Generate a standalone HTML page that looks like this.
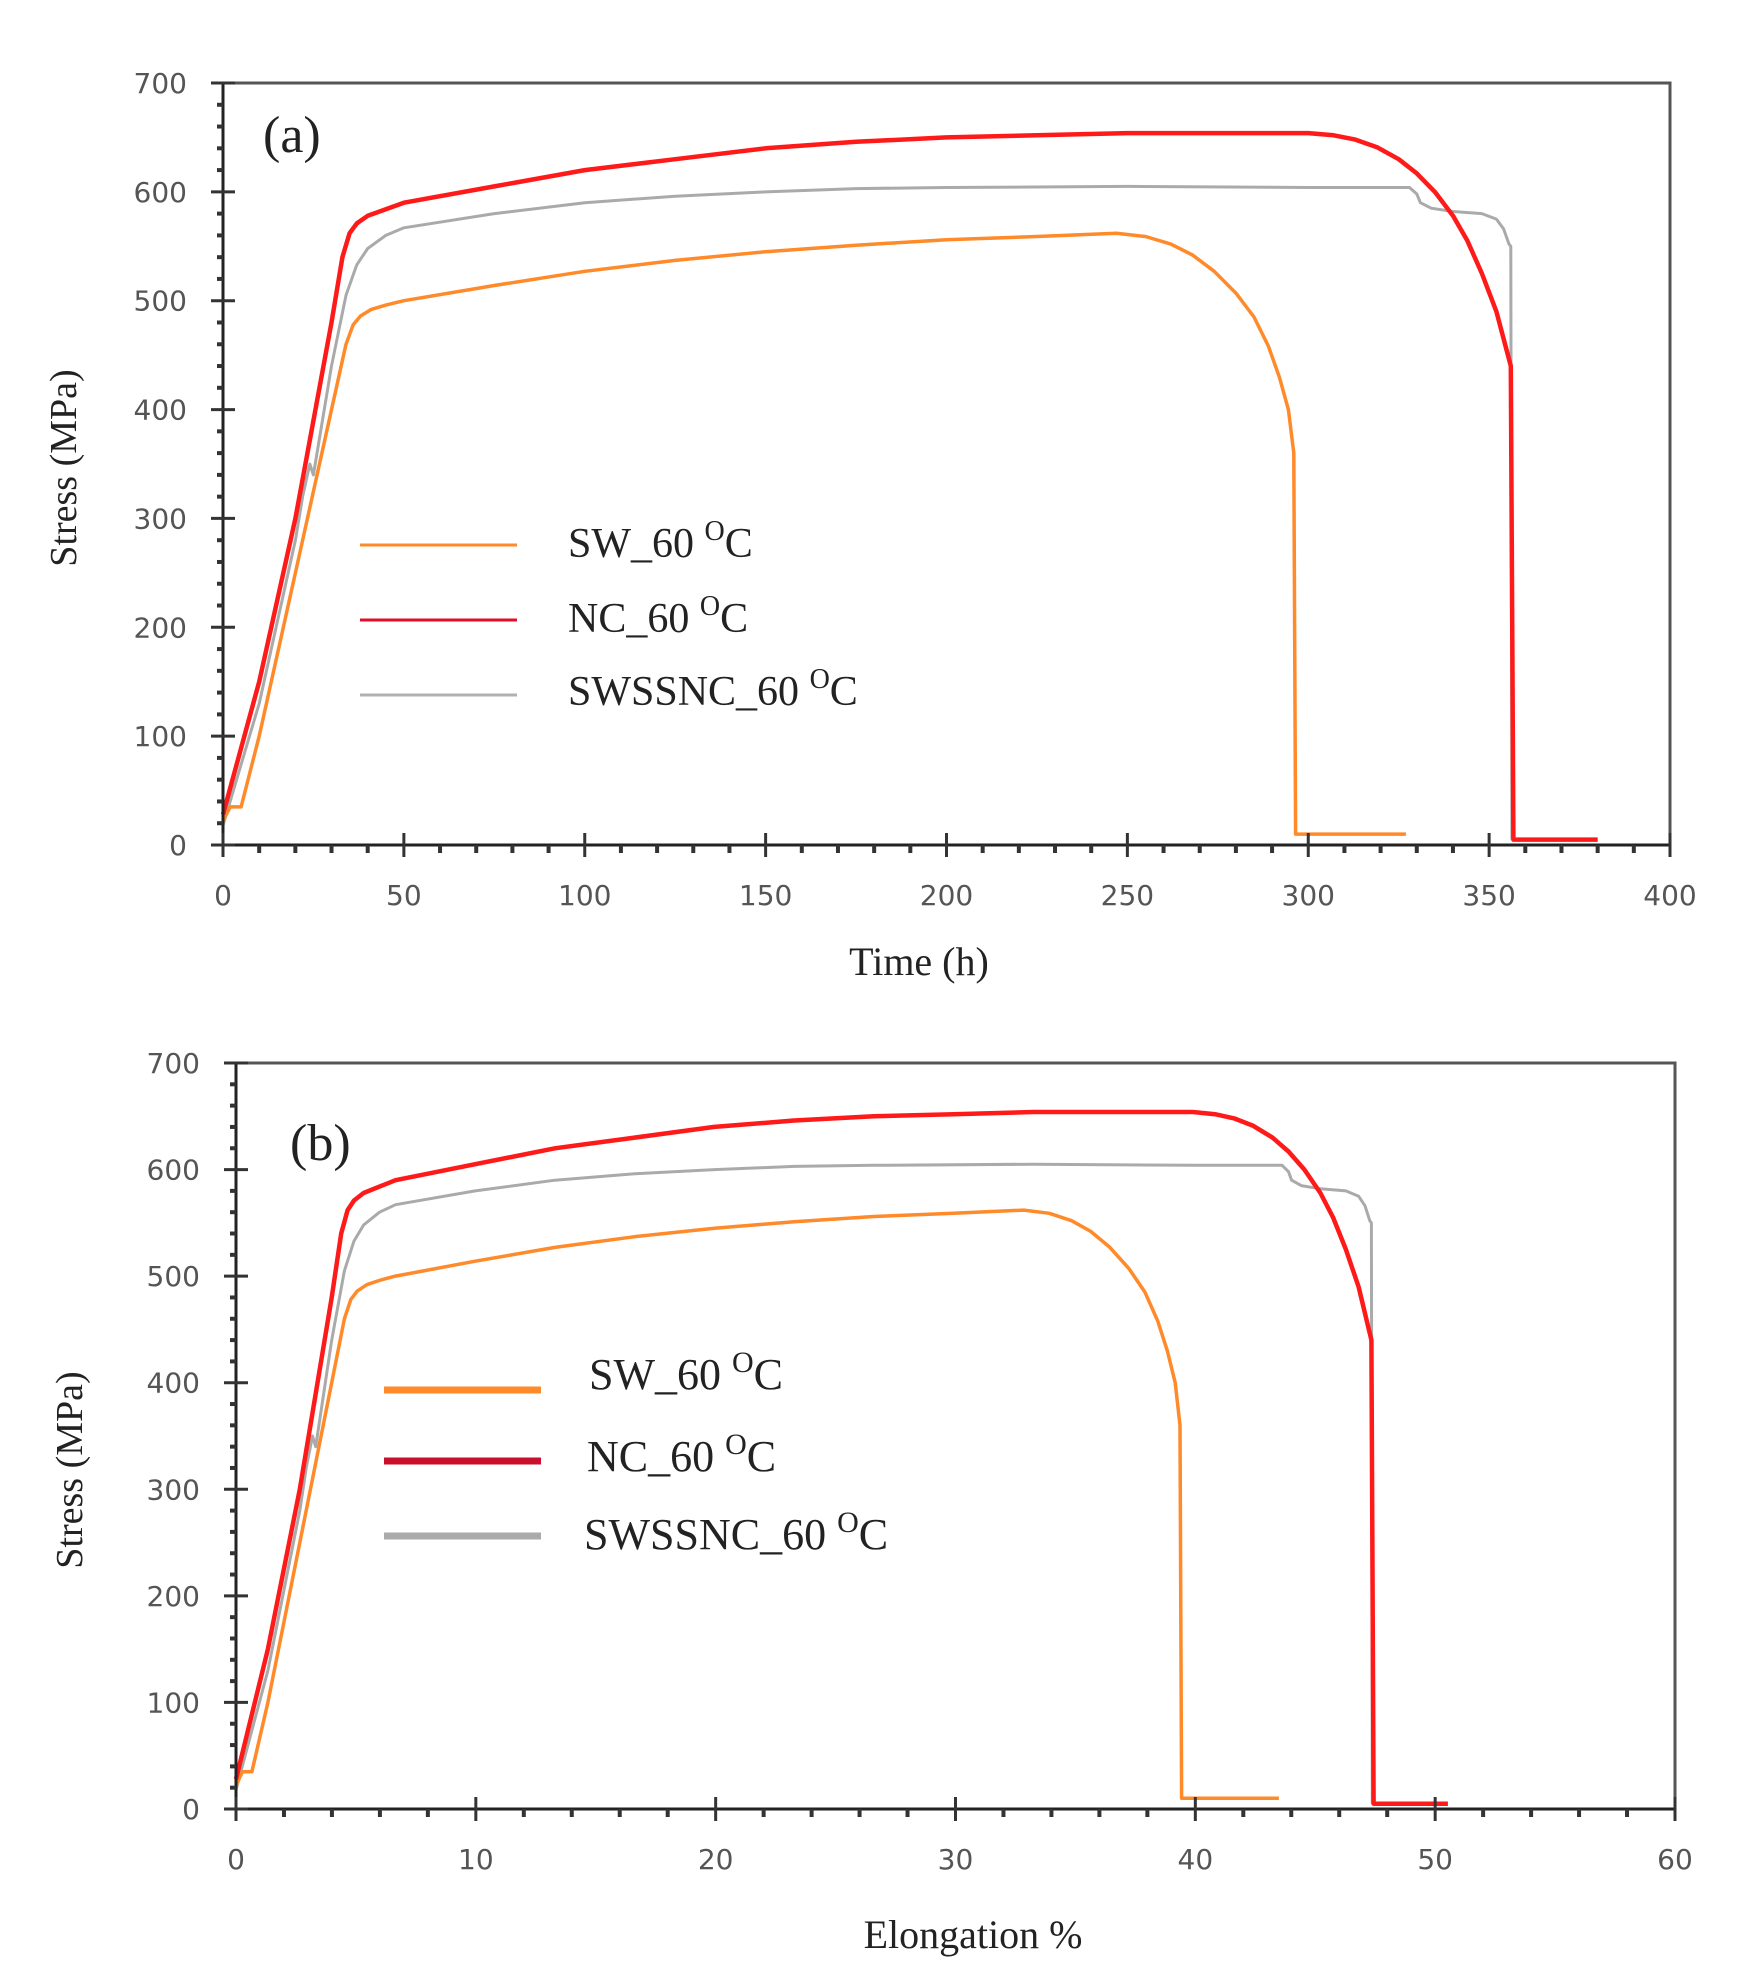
<!DOCTYPE html>
<html><head><meta charset="utf-8">
<style>
html,body{margin:0;padding:0;background:#fff;}
svg{display:block;}
.tl{font-family:"DejaVu Sans","Liberation Sans",sans-serif;font-size:28px;fill:#555;}
.ser{font-family:"Liberation Serif",serif;fill:#222;}
</style></head>
<body>
<svg id="s" width="1756" height="1987" xmlns="http://www.w3.org/2000/svg">
<rect width="1756" height="1987" fill="#fff"/>
<text class="ser" x="263" y="152" font-size="52">(a)</text>
<text class="ser" x="919" y="975" font-size="40" text-anchor="middle" fill="#555">Time (h)</text>
<text class="ser" x="0" y="0" font-size="38" text-anchor="middle" fill="#555" transform="translate(76,468) rotate(-90)">Stress (MPa)</text>
<line x1="360" y1="545" x2="517" y2="545" stroke="#ff8a2a" stroke-width="3"/>
<line x1="360" y1="620" x2="517" y2="620" stroke="#e0102a" stroke-width="3"/>
<line x1="360" y1="695" x2="517" y2="695" stroke="#b0b0b0" stroke-width="3"/>
<text class="ser" x="568" y="557" font-size="42">SW_60 <tspan font-size="28" dy="-17">O</tspan><tspan dy="17">C</tspan></text>
<text class="ser" x="568" y="632" font-size="42">NC_60 <tspan font-size="28" dy="-17">O</tspan><tspan dy="17">C</tspan></text>
<text class="ser" x="568" y="705" font-size="42">SWSSNC_60 <tspan font-size="28" dy="-17">O</tspan><tspan dy="17">C</tspan></text>
<text class="ser" x="290" y="1160" font-size="52">(b)</text>
<text class="ser" x="973" y="1948" font-size="40" text-anchor="middle" fill="#555">Elongation  %</text>
<text class="ser" x="0" y="0" font-size="38" text-anchor="middle" fill="#555" transform="translate(82,1470) rotate(-90)">Stress (MPa)</text>
<line x1="384" y1="1390" x2="541" y2="1390" stroke="#ff8a2a" stroke-width="7"/>
<line x1="384" y1="1461" x2="541" y2="1461" stroke="#c8102e" stroke-width="7"/>
<line x1="384" y1="1536" x2="541" y2="1536" stroke="#aaa" stroke-width="7"/>
<text class="ser" x="589" y="1389" font-size="44">SW_60 <tspan font-size="30" dy="-17">O</tspan><tspan dy="17">C</tspan></text>
<text class="ser" x="587" y="1471" font-size="44">NC_60 <tspan font-size="30" dy="-17">O</tspan><tspan dy="17">C</tspan></text>
<text class="ser" x="584" y="1549" font-size="44">SWSSNC_60 <tspan font-size="30" dy="-17">O</tspan><tspan dy="17">C</tspan></text>
</svg>
<script>
var S=document.getElementById('s'),NS='http://www.w3.org/2000/svg';
function el(t,a,txt){var e=document.createElementNS(NS,t);for(var k in a)e.setAttribute(k,a[k]);if(txt!=null)e.textContent=txt;S.appendChild(e);return e;}
var SW=[[0,22],[2,35],[5,35],[10,100],[20,250],[30,400],[34,460],[36,478],[38,486],[41,492],[45,496],[50,500],[75,514],[100,527],[125,537],[150,545],[175,551],[200,556],[225,559],[247,562],[255,559],[262,552],[268,542],[274,527],[280,507],[285,485],[289,458],[292,430],[294.5,400],[296,360],[296.5,10],[327,10]];
var NC=[[0,28],[10,150],[20,300],[30,480],[33,540],[35,562],[37,571],[40,578],[45,584],[50,590],[75,605],[100,620],[125,630],[150,640],[175,646],[200,650],[225,652],[250,654],[300,654],[307,652],[313,648],[319,641],[325,630],[330,617],[335,600],[340,578],[344,555],[348,525],[352,490],[356,440],[356.7,5],[380,5]];
var GR=[[0,18],[10,130],[20,280],[22,320],[24,350],[25,340],[30,440],[34,505],[37,533],[40,548],[45,560],[50,567],[75,580],[100,590],[125,596],[150,600],[175,603],[200,604],[250,605],[300,604],[328,604],[330,598],[331,590],[334,585],[340,582],[348,580],[352,575],[354,566],[355.5,552],[356,550],[356.3,5]];
function panel(o){
  var X=function(v){return o.x0+v*(o.x1-o.x0)/o.xmax;};
  var Y=function(v){return o.y0-v*(o.y0-o.y1)/700;};
  [[GR,'#aaa',3],[SW,'#ff8a2a',3.5],[NC,'#ff1a1a',4.5]].forEach(function(c){
    var d=c[0].map(function(p,i){return (i?'L':'M')+X(p[0]*o.k).toFixed(1)+' '+Y(p[1]).toFixed(1);}).join('');
    el('path',{d:d,fill:'none',stroke:c[1],'stroke-width':c[2],'stroke-linejoin':'round'});
  });
  el('rect',{x:o.x0,y:o.y1,width:o.x1-o.x0,height:o.y0-o.y1,fill:'none',stroke:'#555','stroke-width':3});
  el('line',{x1:o.x0,y1:o.y0,x2:o.x1,y2:o.y0,stroke:'#222','stroke-width':3});
  el('line',{x1:o.x0,y1:o.y0,x2:o.x0,y2:o.y1,stroke:'#222','stroke-width':3});
  for(var v=0;v<=700;v+=20){var y=Y(v);var maj=v%100==0;
    el('line',{x1:o.x0-(maj?12:6),y1:y,x2:o.x0+(maj?12:0),y2:y,stroke:'#333','stroke-width':maj?3:4});
    if(maj)el('text',{'class':'tl',x:o.x0-36,y:y+10,'text-anchor':'end'},String(v));}
  for(var i=0;i<=o.xmax;i+=o.minor){var x=X(i);var maj=Math.abs(i/o.major-Math.round(i/o.major))<1e-6;
    el('line',{x1:x,y1:o.y0-(maj?12:0),x2:x,y2:o.y0+(maj?12:8),stroke:'#333','stroke-width':maj?3:4});
    if(maj)el('text',{'class':'tl',x:x,y:o.y0+60,'text-anchor':'middle'},String(Math.round(i)));}
}
panel({x0:223,x1:1670,y0:845,y1:83,xmax:400,k:1,major:50,minor:10});
panel({x0:236,x1:1675,y0:1809,y1:1063,xmax:60,k:1/7.52,major:10,minor:2});
</script>
</body></html>
